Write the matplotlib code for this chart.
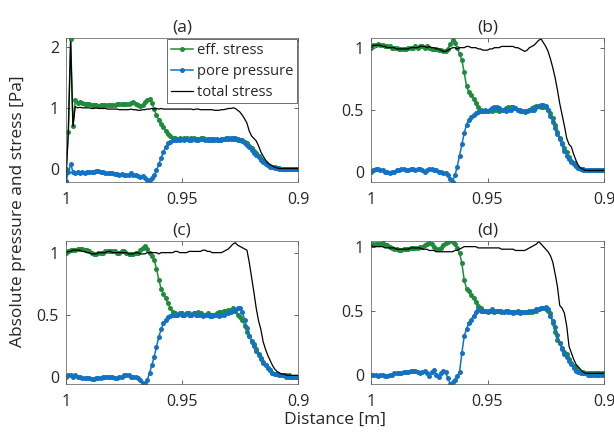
import matplotlib
matplotlib.use("Agg")
import matplotlib.pyplot as plt
import numpy as np

# distance samples (m), 1.0 down to 0.9, shared by all panels
dist = np.linspace(1.0, 0.9, 101)

# ---- panel (a)
eff_a = [0.00, 0.60, 2.13, 0.70, 1.13, 1.08, 1.09, 1.08, 1.07, 1.07,
         1.06, 1.05, 1.04, 1.04, 1.03, 1.04, 1.04, 1.05, 1.05, 1.05,
         1.05, 1.05, 1.06, 1.06, 1.07, 1.07, 1.06, 1.07, 1.08, 1.09,
         1.07, 1.05, 1.03, 1.04, 1.09, 1.13, 1.14, 1.08, 0.98, 0.88,
         0.80, 0.73, 0.68, 0.63, 0.58, 0.54, 0.51, 0.50, 0.49, 0.50,
         0.49, 0.50, 0.50, 0.49, 0.50, 0.50, 0.49, 0.49, 0.50, 0.50,
         0.49, 0.49, 0.48, 0.49, 0.49, 0.48, 0.48, 0.49, 0.49, 0.50,
         0.49, 0.49, 0.49, 0.49, 0.48, 0.48, 0.47, 0.45, 0.42, 0.38,
         0.34, 0.30, 0.26, 0.22, 0.17, 0.13, 0.10, 0.07, 0.05, 0.04,
         0.03, 0.02, 0.02, 0.01, 0.01, 0.01, 0.01, 0.00, 0.00, 0.00, 0.00]
pore_a = [-0.20, -0.05, 0.08, -0.04, -0.06, -0.05, -0.06, -0.05, -0.06, -0.05,
          -0.05, -0.04, -0.05, -0.03, -0.03, -0.04, -0.05, -0.06, -0.06, -0.07,
          -0.07, -0.08, -0.08, -0.09, -0.08, -0.10, -0.10, -0.09, -0.07, -0.09,
          -0.10, -0.12, -0.13, -0.12, -0.14, -0.17, -0.17, -0.15, -0.10, -0.02,
          0.08, 0.18, 0.28, 0.36, 0.42, 0.45, 0.47, 0.48, 0.48, 0.48,
          0.49, 0.48, 0.49, 0.48, 0.48, 0.49, 0.48, 0.48, 0.49, 0.49,
          0.48, 0.48, 0.49, 0.48, 0.48, 0.49, 0.48, 0.48, 0.49, 0.49,
          0.50, 0.50, 0.51, 0.50, 0.49, 0.48, 0.46, 0.43, 0.40, 0.36,
          0.31, 0.27, 0.23, 0.19, 0.15, 0.11, 0.08, 0.06, 0.04, 0.03,
          0.02, 0.02, 0.01, 0.01, 0.01, 0.01, 0.01, 0.00, 0.00, 0.00, 0.00]
tot_a = [-0.20, 0.60, 2.08, 0.70, 1.02, 1.00, 1.01, 1.00, 1.00, 1.00,
         1.00, 0.99, 0.99, 1.00, 0.99, 0.99, 0.99, 0.99, 0.98, 0.98,
         0.98, 0.98, 0.98, 0.97, 0.97, 0.97, 0.97, 0.97, 0.98, 0.97,
         0.97, 0.96, 0.96, 0.97, 0.97, 0.98, 0.98, 0.99, 0.98, 0.99,
         0.98, 0.99, 0.98, 0.98, 0.98, 0.98, 0.98, 0.98, 0.98, 0.98,
         0.98, 0.98, 0.98, 0.98, 0.98, 0.97, 0.98, 0.98, 0.97, 0.97,
         0.97, 0.97, 0.97, 0.97, 0.96, 0.96, 0.96, 0.97, 0.97, 0.98,
         0.99, 0.99, 1.00, 0.99, 0.96, 0.93, 0.88, 0.82, 0.75, 0.62,
         0.54, 0.50, 0.46, 0.38, 0.28, 0.21, 0.15, 0.10, 0.07, 0.05,
         0.03, 0.02, 0.01, 0.01, 0.01, 0.01, 0.01, 0.01, 0.01, 0.01, 0.01]

# ---- panel (b)
eff_b = [1.00, 1.02, 1.02, 1.03, 1.02, 1.02, 1.01, 1.01, 1.01, 1.00,
         1.00, 1.00, 0.99, 0.99, 0.99, 0.99, 1.00, 1.00, 1.00, 1.01,
         1.00, 1.01, 1.01, 1.00, 1.01, 1.00, 0.99, 0.99, 0.99, 0.98,
         0.98, 0.97, 0.97, 0.99, 1.03, 1.06, 1.04, 1.00, 0.95, 0.90,
         0.80, 0.69, 0.64, 0.62, 0.59, 0.55, 0.52, 0.50, 0.49, 0.49,
         0.49, 0.50, 0.49, 0.50, 0.50, 0.49, 0.50, 0.50, 0.51, 0.52,
         0.52, 0.52, 0.51, 0.50, 0.49, 0.49, 0.48, 0.49, 0.50, 0.51,
         0.52, 0.53, 0.53, 0.52, 0.52, 0.52, 0.50, 0.47, 0.43, 0.38,
         0.32, 0.27, 0.23, 0.19, 0.16, 0.12, 0.09, 0.07, 0.05, 0.03,
         0.02, 0.02, 0.01, 0.01, 0.01, 0.01, 0.01, 0.01, 0.01, 0.01, 0.01]
pore_b = [0.00, 0.01, 0.02, 0.02, 0.01, 0.01, 0.00, 0.00, -0.01, 0.00,
          0.00, 0.01, 0.01, 0.02, 0.02, 0.01, 0.01, 0.02, 0.02, 0.01,
          0.02, 0.02, 0.01, 0.00, 0.01, 0.02, 0.02, 0.01, 0.01, 0.00,
          0.00, -0.01, -0.01, -0.03, -0.06, -0.08, -0.03, 0.04, 0.13, 0.22,
          0.31, 0.38, 0.42, 0.44, 0.46, 0.47, 0.48, 0.49, 0.49, 0.50,
          0.49, 0.50, 0.51, 0.52, 0.52, 0.51, 0.50, 0.50, 0.49, 0.50,
          0.50, 0.51, 0.51, 0.50, 0.50, 0.49, 0.49, 0.49, 0.50, 0.50,
          0.50, 0.52, 0.53, 0.54, 0.54, 0.53, 0.50, 0.45, 0.40, 0.35,
          0.30, 0.26, 0.22, 0.17, 0.13, 0.10, 0.08, 0.06, 0.05, 0.03,
          0.02, 0.01, 0.01, 0.01, 0.01, 0.01, 0.01, 0.01, 0.01, 0.01, 0.01]
tot_b = [1.00, 1.02, 1.02, 1.02, 1.02, 1.01, 1.01, 1.00, 1.00, 1.00,
         1.00, 0.99, 0.99, 0.99, 0.99, 0.99, 0.99, 1.00, 1.00, 1.00,
         1.00, 1.01, 1.01, 1.01, 1.00, 1.01, 1.00, 1.00, 0.99, 0.99,
         0.98, 0.97, 0.97, 0.98, 0.99, 1.00, 1.00, 0.99, 1.00, 1.00,
         1.00, 1.01, 1.01, 1.00, 1.00, 1.00, 0.99, 0.99, 0.98, 0.98,
         0.98, 0.99, 0.99, 1.00, 1.00, 1.00, 1.01, 1.01, 1.01, 1.01,
         1.01, 1.01, 1.00, 1.00, 0.99, 0.98, 0.97, 0.98, 1.00, 1.01,
         1.02, 1.04, 1.06, 1.07, 1.04, 1.01, 0.97, 0.91, 0.84, 0.76,
         0.66, 0.55, 0.46, 0.37, 0.27, 0.22, 0.20, 0.14, 0.09, 0.05,
         0.03, 0.02, 0.01, 0.01, 0.01, 0.01, 0.01, 0.01, 0.01, 0.01, 0.01]

# ---- panel (c)
eff_c = [1.00, 1.01, 1.02, 1.02, 1.02, 1.03, 1.03, 1.03, 1.02, 1.02,
         1.01, 1.00, 0.99, 0.99, 1.00, 1.00, 1.00, 1.01, 1.01, 1.01,
         1.01, 1.01, 1.00, 1.00, 1.01, 1.01, 1.00, 0.99, 0.99, 0.99,
         1.00, 1.00, 1.02, 1.04, 1.05, 1.03, 1.00, 0.97, 0.94, 0.87,
         0.78, 0.71, 0.67, 0.63, 0.59, 0.55, 0.52, 0.51, 0.50, 0.51,
         0.51, 0.50, 0.51, 0.51, 0.50, 0.51, 0.51, 0.52, 0.51, 0.50,
         0.50, 0.51, 0.50, 0.50, 0.50, 0.51, 0.52, 0.52, 0.53, 0.53,
         0.54, 0.54, 0.55, 0.53, 0.50, 0.48, 0.46, 0.41, 0.36, 0.33,
         0.29, 0.26, 0.22, 0.18, 0.15, 0.12, 0.09, 0.07, 0.05, 0.03,
         0.02, 0.02, 0.01, 0.01, 0.01, 0.01, 0.01, 0.00, 0.00, 0.00, 0.00]
pore_c = [0.00, 0.01, 0.01, 0.00, 0.01, 0.00, 0.00, -0.01, -0.01, -0.01,
          -0.01, -0.02, -0.02, -0.01, -0.01, -0.01, 0.00, 0.00, 0.00, 0.00,
          0.00, -0.01, -0.01, 0.00, 0.00, 0.01, 0.01, 0.01, 0.00, 0.00,
          0.00, -0.01, -0.03, -0.05, -0.06, -0.03, 0.03, 0.09, 0.16, 0.24,
          0.32, 0.38, 0.43, 0.46, 0.48, 0.49, 0.50, 0.50, 0.50, 0.51,
          0.50, 0.50, 0.51, 0.50, 0.50, 0.51, 0.50, 0.50, 0.50, 0.49,
          0.50, 0.50, 0.49, 0.49, 0.50, 0.50, 0.49, 0.50, 0.50, 0.51,
          0.51, 0.52, 0.53, 0.54, 0.55, 0.55, 0.52, 0.46, 0.39, 0.33,
          0.28, 0.25, 0.21, 0.17, 0.14, 0.11, 0.09, 0.07, 0.05, 0.03,
          0.02, 0.02, 0.01, 0.01, 0.01, 0.00, 0.00, 0.00, 0.00, 0.00, 0.00]
tot_c = [1.00, 1.01, 1.01, 1.02, 1.02, 1.02, 1.02, 1.01, 1.01, 1.00,
         1.00, 0.99, 0.99, 0.99, 1.00, 1.00, 1.00, 1.00, 1.01, 1.01,
         1.00, 1.00, 1.00, 1.00, 1.00, 1.00, 1.00, 0.99, 0.99, 0.99,
         1.00, 1.00, 0.99, 0.99, 0.99, 1.00, 1.00, 1.00, 1.00, 1.00,
         0.99, 1.00, 1.00, 1.00, 1.00, 1.00, 1.00, 1.01, 1.01, 1.00,
         1.00, 1.00, 1.00, 1.01, 1.01, 1.01, 1.01, 1.01, 1.01, 1.02,
         1.02, 1.01, 1.01, 1.00, 1.00, 1.00, 1.00, 1.00, 1.01, 1.02,
         1.03, 1.05, 1.07, 1.08, 1.06, 1.05, 1.04, 1.03, 1.02, 0.92,
         0.80, 0.68, 0.55, 0.45, 0.38, 0.28, 0.22, 0.17, 0.13, 0.09,
         0.06, 0.04, 0.03, 0.02, 0.02, 0.01, 0.01, 0.01, 0.01, 0.01, 0.01]

# ---- panel (d)
eff_d = [1.01, 1.02, 1.02, 1.02, 1.02, 1.03, 1.01, 1.01, 1.00, 0.99,
         0.98, 0.98, 0.97, 0.97, 0.98, 0.98, 0.98, 0.99, 0.99, 0.99,
         0.99, 1.00, 1.00, 1.01, 1.02, 1.03, 1.02, 1.00, 0.98, 0.98,
         0.99, 1.01, 1.03, 1.04, 1.05, 1.04, 1.02, 0.99, 0.95, 0.87,
         0.74, 0.67, 0.65, 0.62, 0.60, 0.57, 0.54, 0.52, 0.50, 0.50,
         0.49, 0.50, 0.50, 0.49, 0.50, 0.50, 0.50, 0.49, 0.50, 0.50,
         0.49, 0.49, 0.49, 0.50, 0.49, 0.49, 0.49, 0.49, 0.49, 0.49,
         0.50, 0.50, 0.51, 0.52, 0.52, 0.51, 0.50, 0.48, 0.40, 0.33,
         0.27, 0.25, 0.21, 0.18, 0.16, 0.12, 0.09, 0.07, 0.05, 0.03,
         0.02, 0.02, 0.01, 0.01, 0.01, 0.01, 0.01, 0.01, 0.01, 0.01, 0.01]
pore_d = [0.00, 0.00, 0.00, -0.01, 0.00, 0.00, -0.01, -0.01, 0.00, 0.00,
          0.01, 0.01, 0.01, 0.01, 0.02, 0.02, 0.02, 0.03, 0.03, 0.03,
          0.02, 0.01, 0.02, 0.03, 0.01, -0.01, 0.02, 0.04, 0.00, -0.02,
          0.01, 0.03, 0.02, -0.03, -0.07, -0.06, -0.04, -0.01, 0.02, 0.17,
          0.30, 0.36, 0.40, 0.43, 0.46, 0.49, 0.51, 0.50, 0.50, 0.50,
          0.50, 0.50, 0.51, 0.50, 0.50, 0.50, 0.49, 0.49, 0.50, 0.49,
          0.49, 0.48, 0.49, 0.49, 0.48, 0.49, 0.49, 0.49, 0.50, 0.50,
          0.50, 0.51, 0.51, 0.52, 0.52, 0.53, 0.51, 0.46, 0.42, 0.37,
          0.31, 0.25, 0.20, 0.16, 0.14, 0.11, 0.08, 0.05, 0.03, 0.02,
          0.01, 0.01, 0.01, 0.00, 0.00, 0.00, 0.00, 0.00, 0.00, 0.00, 0.00]
tot_d = [1.01, 1.00, 1.00, 1.00, 1.00, 1.00, 0.99, 0.99, 0.99, 0.99,
         0.99, 0.98, 0.98, 0.98, 0.98, 0.98, 0.98, 0.99, 0.99, 0.99,
         0.99, 0.99, 0.98, 0.98, 0.98, 0.97, 0.97, 0.97, 0.96, 0.96,
         0.96, 0.96, 0.96, 0.96, 0.96, 0.96, 0.97, 0.97, 0.98, 0.99,
         1.00, 1.00, 1.00, 1.00, 1.00, 1.00, 0.99, 0.99, 0.99, 0.99,
         0.99, 0.99, 0.99, 0.99, 0.99, 0.99, 0.98, 0.98, 0.98, 0.98,
         0.98, 0.98, 0.97, 0.97, 0.97, 0.97, 0.97, 0.98, 0.99, 1.00,
         1.01, 1.02, 1.04, 1.02, 1.00, 0.98, 0.96, 0.93, 0.88, 0.79,
         0.69, 0.54, 0.52, 0.48, 0.38, 0.22, 0.17, 0.12, 0.08, 0.06,
         0.04, 0.02, 0.01, 0.01, 0.01, 0.01, 0.01, 0.01, 0.01, 0.01, 0.01]

panels = [
    ("(a)", eff_a, pore_a, tot_a, (-0.21, 2.14), [0, 1, 2], ["0", "1", "2"]),
    ("(b)", eff_b, pore_b, tot_b, (-0.083, 1.078), [0, 0.5, 1], ["0", "0.5", "1"]),
    ("(c)", eff_c, pore_c, tot_c, (-0.06, 1.094), [0, 0.5, 1], ["0", "0.5", "1"]),
    ("(d)", eff_d, pore_d, tot_d, (-0.073, 1.044), [0, 0.5, 1], ["0", "0.5", "1"]),
]

GREEN = "#1f8b3b"
BLUE = "#1372c4"
TXT = "#262626"

plt.rcParams["font.family"] = ["Open Sans", "DejaVu Sans"]
plt.rcParams["text.color"] = TXT
plt.rcParams["axes.labelcolor"] = TXT
plt.rcParams["xtick.color"] = TXT
plt.rcParams["ytick.color"] = TXT

fig = plt.figure(figsize=(6.14, 4.33), dpi=100)

W = 614.0
H = 433.0
# axes boxes in pixels: left, top, right, bottom
boxes = [(66, 38, 298, 182), (371, 38, 604, 182),
         (66, 241, 298, 384), (371, 241, 604, 384)]

for (title, eff, pore, tot, ylim, yt, ytl), (l, t, r, b) in zip(panels, boxes):
    ax = fig.add_axes([l / W, 1 - b / H, (r - l) / W, (b - t) / H])
    ax.plot(dist, eff, "-o", color=GREEN, lw=1.1, ms=3.6, mew=0, label="eff. stress")
    ax.plot(dist, pore, "-o", color=BLUE, lw=1.1, ms=3.6, mew=0, label="pore pressure")
    ax.plot(dist, tot, "-", color="black", lw=0.9, label="total stress")
    ax.set_xlim(1.0, 0.9)
    ax.set_ylim(*ylim)
    ax.set_xticks([1.0, 0.95, 0.9])
    ax.set_xticklabels(["1", "0.95", "0.9"])
    ax.set_yticks(yt)
    ax.set_yticklabels(ytl)
    ax.tick_params(direction="in", length=3, width=0.5, top=True, right=True,
                   labelsize=11.5, pad=5)
    ax.tick_params(axis="x", pad=7)
    for s in ax.spines.values():
        s.set_linewidth(0.5)
        s.set_color("#555555")
    ax.set_title(title, fontsize=12.5, pad=5)
    if title == "(a)":
        leg = ax.legend(loc="upper right", fontsize=10.5, numpoints=1,
                        handlelength=1.5, handletextpad=0.25, labelspacing=0.4,
                        borderpad=0.25, borderaxespad=0.1, fancybox=False,
                        framealpha=1)
        leg.get_frame().set_edgecolor("#555555")
        leg.get_frame().set_linewidth(0.6)

fig.text(335 / W, 1 - 420 / H, "Distance [m]", ha="center", va="center", fontsize=12.5)
fig.text(18 / W, 1 - 211 / H, "Absolute pressure and stress [Pa]", ha="center",
         va="center", rotation=90, fontsize=12.5)

plt.savefig("out.png", dpi=100)
